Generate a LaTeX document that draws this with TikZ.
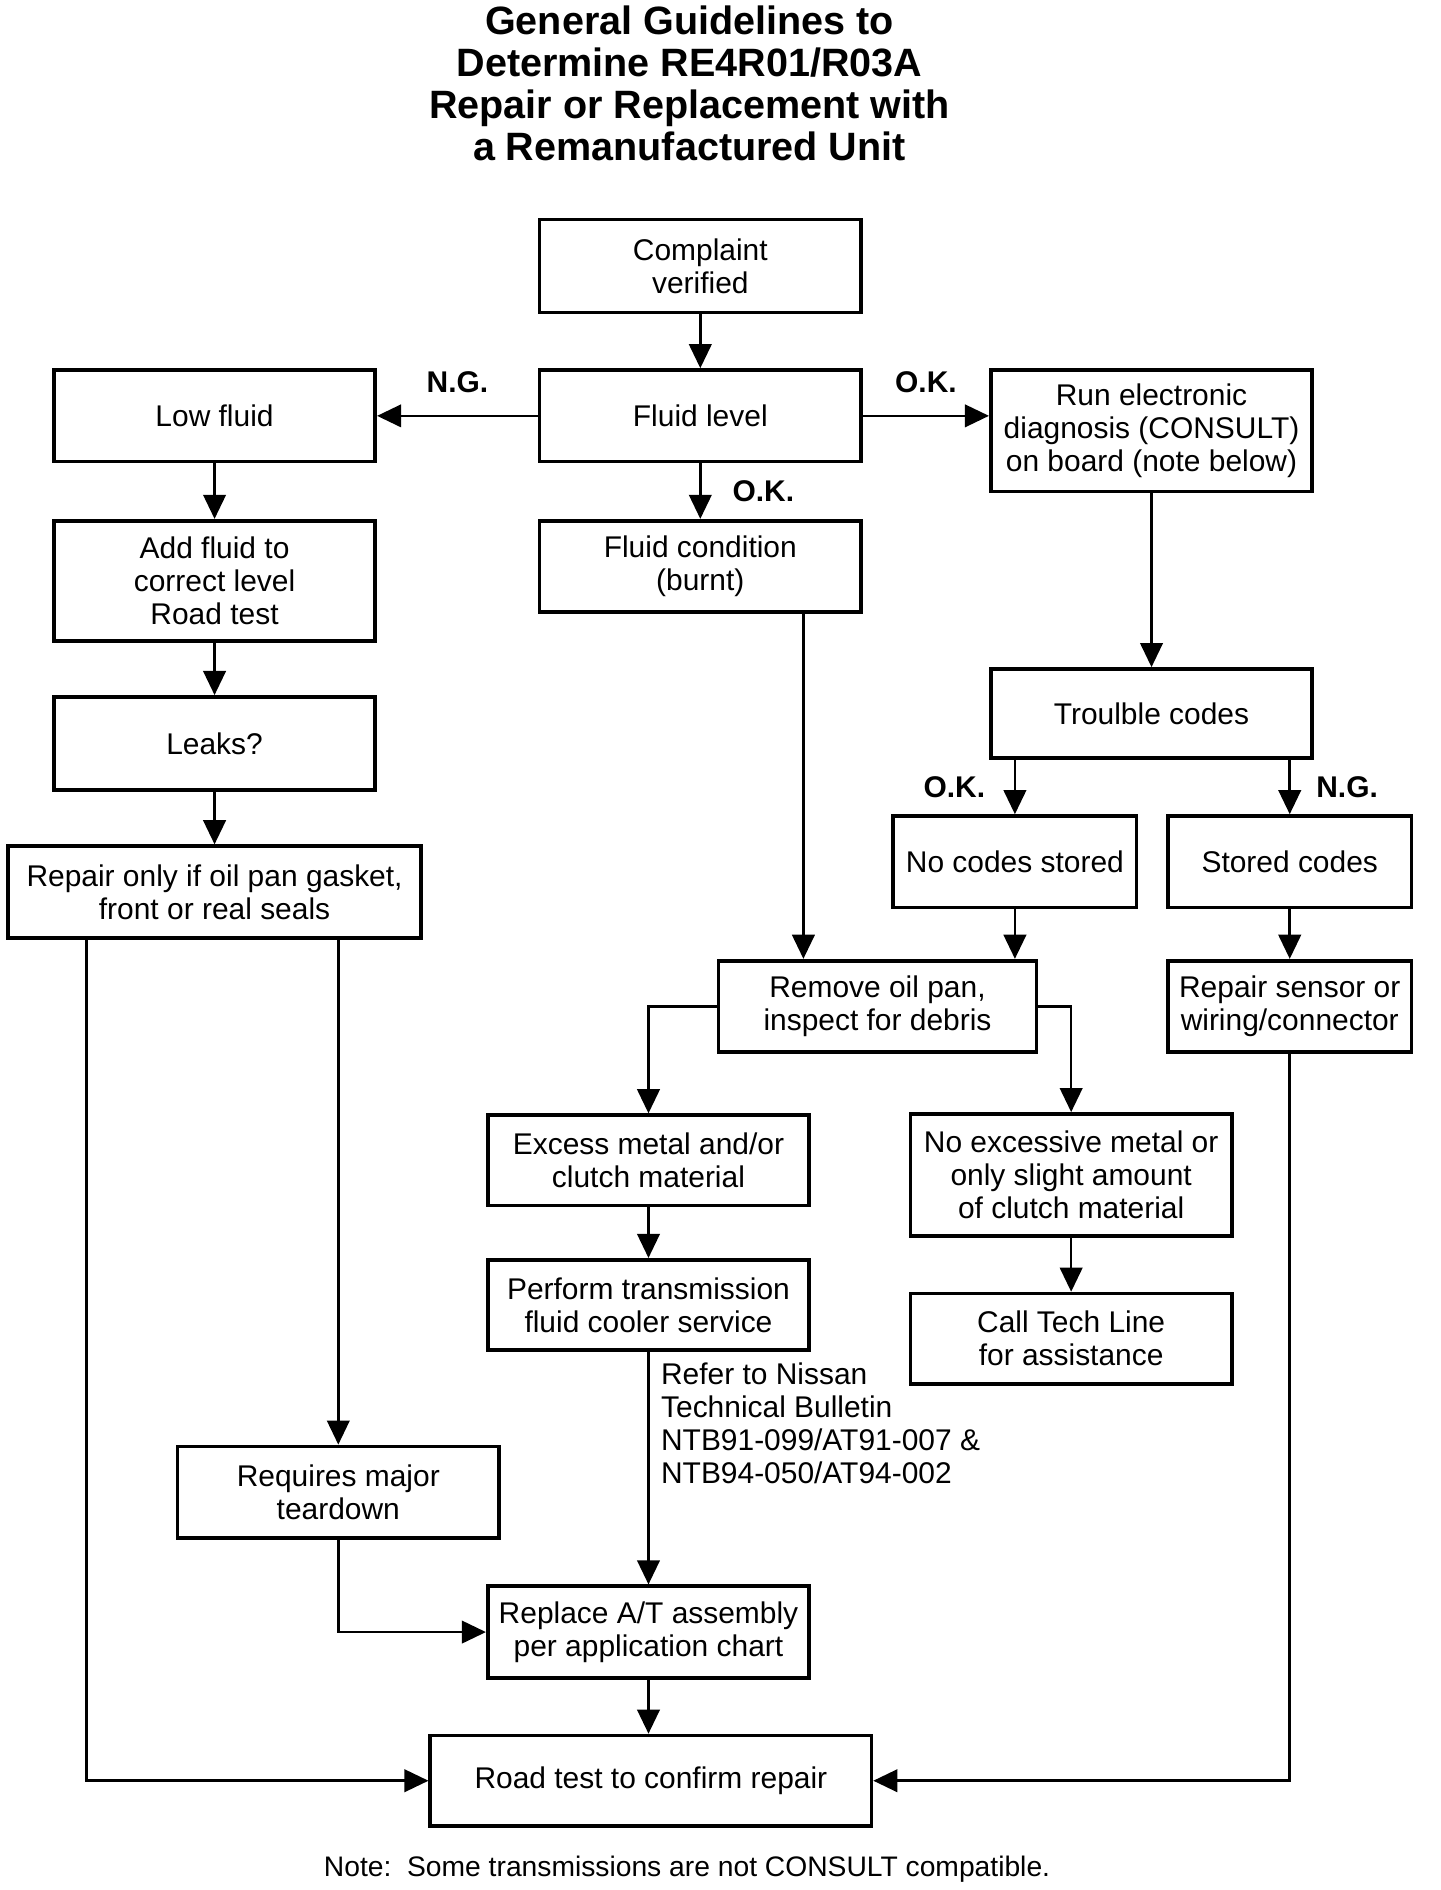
\documentclass[tikz,border=0pt]{standalone}
\usepackage{fontspec}
\setmainfont{Liberation Sans}
\usepackage{tikz}
\usetikzlibrary{arrows.meta, positioning}

\begin{document}
\begin{tikzpicture}[
    block/.style={rectangle, draw=black, line width=1.3pt, minimum width=4cm, minimum height=1.14cm, align=center, inner sep=2pt, font=\fontsize{10.6}{11.7}\selectfont},
    arrow/.style={-{Triangle[length=3mm, width=2.8mm]}, line width=0.9pt},
    verdict/.style={inner sep=1pt, font=\fontsize{10.6}{11.7}\selectfont\bfseries}
]
\useasboundingbox (0,0) rectangle (17.925,-23.52);
\node (title) at (8.58,-1.04) [align=center, font=\fontsize{14}{14.9}\selectfont\bfseries] {General Guidelines to\\Determine RE4R01/R03A\\Repair or Replacement with\\a Remanufactured Unit};
\node (compl) at (8.715,-3.31) [block, minimum height=1.155cm] {Complaint\\verified};
\node (level) at (8.715,-5.175) [block] {Fluid level};
\node (low) at (2.67,-5.175) [block] {Low fluid};
\node (run) at (14.33,-5.36) [block, minimum height=1.515cm] {Run electronic\\diagnosis (CONSULT)\\on board (note below)};
\node (add) at (2.67,-7.23) [block, minimum height=1.5cm] {Add fluid to\\correct level\\Road test};
\node (cond) at (8.715,-7.05) [block] {Fluid condition\\(burnt)};
\node (leaks) at (2.67,-9.25) [block, minimum height=1.155cm] {Leaks?};
\node (repair) at (2.67,-11.1) [block, minimum width=5.145cm] {Repair only if oil pan gasket,\\front or real seals};
\node (codes) at (14.33,-8.88) [block, minimum height=1.11cm] {Troulble codes};
\node (nocodes) at (12.63,-10.725) [block, minimum width=3.03cm] {No codes stored};
\node (stored) at (16.05,-10.725) [block, minimum width=3.03cm] {Stored codes};
\node (pan) at (10.92,-12.525) [block, minimum width=3.96cm] {Remove oil pan,\\inspect for debris};
\node (sensor) at (16.05,-12.525) [block, minimum width=3.03cm] {Repair sensor or\\wiring/connector};
\node (metal) at (8.07,-14.44) [block, minimum height=1.125cm] {Excess metal and/or\\clutch material};
\node (nometal) at (13.33,-14.62) [block, minimum height=1.515cm] {No excessive metal or\\only slight amount\\of clutch material};
\node (cooler) at (8.07,-16.24) [block, minimum height=1.125cm] {Perform transmission\\fluid cooler service};
\node (techline) at (13.33,-16.66) [block, minimum height=1.125cm] {Call Tech Line\\for assistance};
\node (teardown) at (4.21,-18.57) [block] {Requires major\\teardown};
\node (replace) at (8.07,-20.31) [block] {Replace A/T assembly\\per application chart};
\node (road) at (8.1,-22.16) [block, minimum width=5.49cm, minimum height=1.125cm] {Road test to confirm repair};
\node (ntb) at (8.22,-17.715) [anchor=west, align=left, inner sep=0pt, font=\fontsize{10.6}{11.7}\selectfont] {Refer to Nissan\\Technical Bulletin\\NTB91-099/AT91-007 \&\\NTB94-050/AT94-002};
\node (note) at (8.55,-23.265) [font=\fontsize{10}{12}\selectfont] {Note:\ \ Some transmissions are not CONSULT compatible.};
% fluid checks
\draw[arrow] (compl) -- (level);
\draw[arrow] (level) -- node[verdict, above=2.4mm] (ng1) {N.G.} (low);
\draw[arrow] (level.east) -- node[verdict, above=2.4mm] (ok1) {O.K.} (level.east -| run.west);
\draw[arrow] (level) -- node[verdict, right=3.5mm] (ok2) {O.K.} (cond);
\draw[arrow] (low) -- (add);
\draw[arrow] (add) -- (leaks);
\draw[arrow] (leaks) -- (repair);
% electronic diagnosis
\draw[arrow] (run) -- (codes);
\draw[arrow] (codes.south -| nocodes) -- node[verdict, left=3.2mm] (ok3) {O.K.} (nocodes);
\draw[arrow] (codes.south -| stored) -- node[verdict, right=2.8mm] (ng2) {N.G.} (stored);
\draw[arrow] (nocodes) -- (nocodes |- pan.north);
\draw[arrow] (stored) -- (sensor);
\coordinate (burnt) at ([xshift=-7.4mm]cond.south east);
\draw[arrow] (burnt) -- (burnt |- pan.north);
% oil pan inspection
\draw[arrow] (pan.west) -| (metal.north);
\draw[arrow] (pan.east) -| (nometal.north);
\draw[arrow] (metal) -- (cooler);
\draw[arrow] (nometal) -- (techline);
\draw[arrow] (cooler) -- (replace);
% to the road test
\coordinate (seals) at ([xshift=10mm]repair.south west);
\draw[arrow] (seals) |- (road.west);
\draw[arrow] (repair.south -| teardown) -- (teardown);
\draw[arrow] (teardown.south) |- (replace.west);
\draw[arrow] (replace) -- (replace |- road.north);
\draw[arrow] (sensor.south) |- (road.east);
\end{tikzpicture}
\end{document}
